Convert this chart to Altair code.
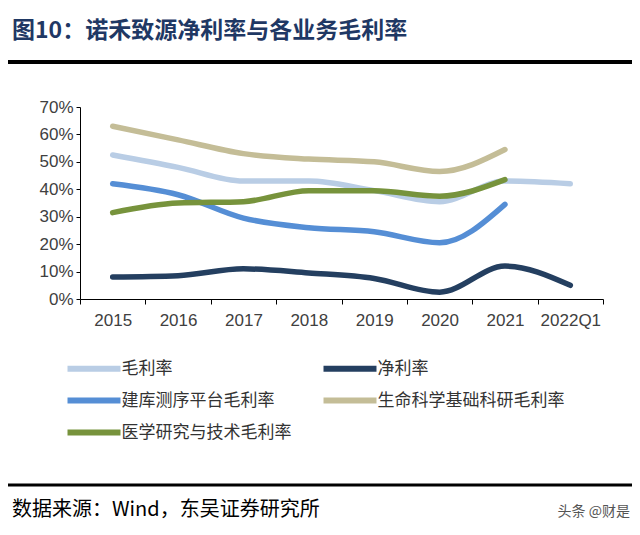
import altair as alt
import pandas as pd

periods = ["2015", "2016", "2017", "2018", "2019", "2020", "2021", "2022Q1"]
series = ["毛利率", "净利率", "建库测序平台毛利率", "生命科学基础科研毛利率", "医学研究与技术毛利率"]
colors = ["#B9CDE5", "#243F60", "#558ED5", "#C4BD97", "#77933C"]

gross = [0.525, 0.48, 0.43, 0.43, 0.395, 0.355, 0.43, 0.42]
net = [0.08, 0.085, 0.11, 0.095, 0.075, 0.025, 0.12, 0.05]
library = [0.42, 0.38, 0.295, 0.26, 0.245, 0.205, 0.345]
life = [0.63, 0.58, 0.53, 0.51, 0.50, 0.465, 0.545]
medical = [0.315, 0.35, 0.355, 0.395, 0.395, 0.375, 0.435]

y_ticks = [0, 0.1, 0.2, 0.3, 0.4, 0.5, 0.6, 0.7]

title_text = "图10：诺禾致源净利率与各业务毛利率"
source_text = "数据来源：Wind，东吴证券研究所"
mark_text = "头条 @财是"

rows = []
for name, vals in zip(series, [gross, net, library, life, medical]):
    for p, v in zip(periods, vals):
        rows.append({"period": p, "series": name, "value": v})
df = pd.DataFrame(rows)

W, H = 523, 192
PL, PT = 72, 99
PR = 624 - PL - W
PB = 519 - PT - H

lines = alt.Chart(df).mark_line(
    strokeWidth=5.5, interpolate="monotone", strokeCap="round"
).encode(
    x=alt.X("period:N", sort=periods,
            scale=alt.Scale(type="band", paddingInner=0, paddingOuter=0),
            axis=alt.Axis(title=None, labelAngle=0, tickBand="extent",
                          labelFont="Liberation Sans", labelFontSize=17,
                          labelColor="#404040", domainColor="#000000",
                          tickColor="#000000", tickSize=5, labelPadding=8,
                          domainWidth=1)),
    y=alt.Y("value:Q", scale=alt.Scale(domain=[0, 0.7], nice=False),
            axis=alt.Axis(title=None, format=".0%", values=y_ticks, grid=False,
                          labelFont="Liberation Sans", labelFontSize=17,
                          labelColor="#404040", domainColor="#000000",
                          tickColor="#000000", tickSize=4, labelPadding=3)),
    color=alt.Color("series:N", sort=series,
                    scale=alt.Scale(domain=series, range=colors),
                    legend=alt.Legend(title=None, orient="none", legendX=-2.5,
                                      legendY=245, columns=2, direction="horizontal",
                                      symbolType="M-2,0H2", symbolSize=702,
                                      symbolStrokeWidth=6, columnPadding=20,
                                      rowPadding=3, labelFontSize=17,
                                      labelFont="Noto Sans CJK SC", labelColor="#333333",
                                      labelLimit=400, labelOffset=11)),
)

title_df = pd.DataFrame({"t": [title_text]})
title = alt.Chart(title_df).mark_text(
    align="left", baseline="middle", font="Noto Sans CJK SC", fontSize=23,
    fontWeight="bold", color="#1F3864"
).encode(x=alt.value(-68), y=alt.value(-76), text="t:N")

src_df = pd.DataFrame({"t": [source_text]})
src = alt.Chart(src_df).mark_text(
    align="left", baseline="middle", font="Noto Sans CJK SC", fontSize=20,
    color="#000000"
).encode(x=alt.value(-68), y=alt.value(403), text="t:N")

wm_df = pd.DataFrame({"t": [mark_text]})
wm = alt.Chart(wm_df).mark_text(
    align="right", baseline="middle", font="Noto Sans CJK SC", fontSize=14,
    color="#555555"
).encode(x=alt.value(550), y=alt.value(405), text="t:N")

rule_df = pd.DataFrame({"k": [1]})
top_rule = alt.Chart(rule_df).mark_rule(color="#000000", strokeWidth=4).encode(
    x=alt.value(-80), x2=alt.value(560), y=alt.value(-45))
bot_rule = alt.Chart(rule_df).mark_rule(color="#000000", strokeWidth=3).encode(
    x=alt.value(-80), x2=alt.value(560), y=alt.value(378))

chart = alt.layer(lines, title, src, wm, top_rule, bot_rule).properties(
    width=W, height=H,
    autosize=alt.AutoSizeParams(type="none"),
    padding={"left": PL, "top": PT, "right": PR, "bottom": PB},
    background="#FFFFFF",
).configure_view(stroke=None)

chart.save("out.html", embed_options={"renderer": "svg", "actions": False})
